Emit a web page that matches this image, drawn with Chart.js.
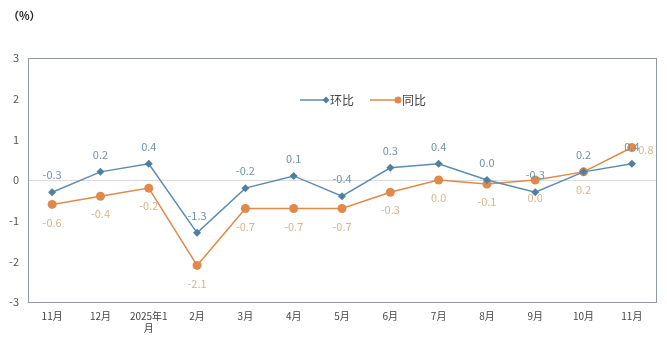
<!DOCTYPE html>
<html>
<head>
<meta charset="utf-8">
<script src="https://cdn.jsdelivr.net/npm/chart.js@4"></script>
<style>
  html, body { margin: 0; padding: 0; background: #fff; }
  #wrap { width: 667px; height: 344px; position: relative; }
</style>
</head>
<body>
<div id="wrap"><canvas id="cpi"></canvas></div>
<script>
// months along the x axis
const months = ['11月', '12月', ['2025年1', '月'], '2月', '3月', '4月', '5月', '6月', '7月', '8月', '9月', '10月', '11月'];
// 环比 (month on month)
const mom = [-0.3, 0.2, 0.4, -1.3, -0.2, 0.1, -0.4, 0.3, 0.4, 0.0, -0.3, 0.2, 0.4];
// 同比 (year on year)
const yoy = [-0.6, -0.4, -0.2, -2.1, -0.7, -0.7, -0.7, -0.3, 0.0, -0.1, 0.0, 0.2, 0.8];
const yTicks = [-3, -2, -1, 0, 1, 2, 3];

const FONT = '"Noto Sans CJK SC", "Noto Sans", sans-serif';
const BLUE = '#5b8db0';
const ORANGE = '#e0894a';

// value labels, box border, unit and legend
const extras = {
    id: 'extras',
    afterDatasetsDraw(chart) {
        const ctx = chart.ctx;
        const area = chart.chartArea;
        ctx.save();

        // frame round the plot
        ctx.strokeStyle = '#8d9ba6';
        ctx.lineWidth = 1;
        ctx.strokeRect(area.left + 0.5, area.top + 0.5, area.right - area.left, area.bottom - area.top);

        ctx.font = '11px ' + FONT;
        ctx.textAlign = 'center';
        ctx.textBaseline = 'middle';

        // blue labels above the points
        chart.getDatasetMeta(0).data.forEach((pt, i) => {
            ctx.fillStyle = '#6d93ab';
            ctx.fillText(mom[i].toFixed(1), pt.x, pt.y - 17);
        });
        // orange labels below the points, last one to the right
        chart.getDatasetMeta(1).data.forEach((pt, i) => {
            ctx.fillStyle = '#d8b48c';
            if (i === yoy.length - 1) {
                ctx.fillText(yoy[i].toFixed(1), pt.x + 14, pt.y + 2);
            } else {
                ctx.fillText(yoy[i].toFixed(1), pt.x, pt.y + 18);
            }
        });

        // unit
        ctx.fillStyle = '#222';
        ctx.font = 'bold 11px ' + FONT;
        ctx.textAlign = 'left';
        ctx.fillText('（%）', 8, 16);

        // legend
        const ly = 100;
        ctx.lineWidth = 1.5;
        ctx.strokeStyle = BLUE;
        ctx.beginPath(); ctx.moveTo(300, ly); ctx.lineTo(326, ly); ctx.stroke();
        ctx.fillStyle = '#4f809f';
        ctx.beginPath();
        ctx.moveTo(326, ly - 3.5); ctx.lineTo(329.5, ly); ctx.lineTo(326, ly + 3.5); ctx.lineTo(322.5, ly);
        ctx.closePath(); ctx.fill();
        ctx.strokeStyle = ORANGE;
        ctx.beginPath(); ctx.moveTo(370, ly); ctx.lineTo(398, ly); ctx.stroke();
        ctx.fillStyle = ORANGE;
        ctx.beginPath(); ctx.arc(398, ly, 3.5, 0, Math.PI * 2); ctx.fill();
        ctx.fillStyle = '#444';
        ctx.font = '12px ' + FONT;
        ctx.fillText('环比', 330, ly);
        ctx.fillText('同比', 402, ly);

        ctx.restore();
    }
};

new Chart(document.getElementById('cpi'), {
    type: 'line',
    data: {
        labels: months,
        datasets: [{
            label: '环比',
            data: mom,
            borderColor: BLUE,
            backgroundColor: '#4f809f',
            borderWidth: 1.5,
            pointStyle: 'rectRot',
            pointRadius: 4,
            pointBorderWidth: 0,
            tension: 0,
        }, {
            label: '同比',
            data: yoy,
            borderColor: ORANGE,
            backgroundColor: ORANGE,
            borderWidth: 1.5,
            pointStyle: 'circle',
            pointRadius: 4.5,
            pointBorderWidth: 0,
            tension: 0,
        }]
    },
    options: {
        responsive: true,
        maintainAspectRatio: false,
        animation: false,
        layout: { padding: { top: 58, right: 11, left: 0, bottom: 0 } },
        plugins: {
            legend: { display: false },
            tooltip: { enabled: false }
        },
        scales: {
            x: {
                offset: true,
                grid: { display: false, drawTicks: false },
                border: { display: false },
                ticks: {
                    color: '#444',
                    font: { size: 10, family: FONT },
                    maxRotation: 0,
                    autoSkip: false,
                    padding: 8
                },
                afterFit(scale) { scale.height = 42; }
            },
            y: {
                min: -3,
                max: 3,
                afterBuildTicks(scale) { scale.ticks = yTicks.map(v => ({ value: v })); },
                grid: {
                    drawTicks: false,
                    color: c => (c.tick && c.tick.value === 0) ? '#dcdcdc' : 'rgba(0,0,0,0)'
                },
                border: { display: false },
                ticks: {
                    color: '#555',
                    font: { size: 11, family: FONT },
                    padding: 9
                },
                afterFit(scale) { scale.width = 28; }
            }
        }
    },
    plugins: [extras]
});
</script>
</body>
</html>
